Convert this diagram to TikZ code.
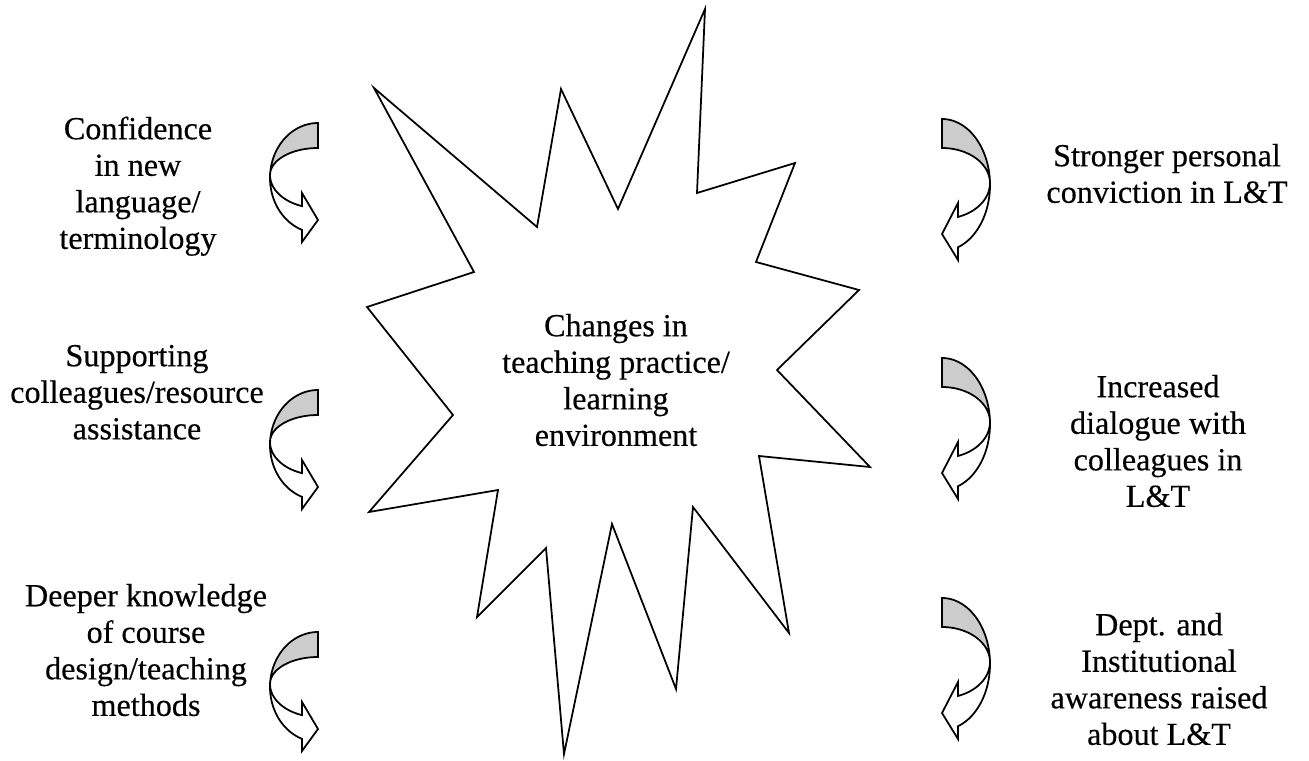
\documentclass[tikz,border=0pt]{standalone}
\usepackage{fontspec}
\setmainfont{Liberation Serif}[FakeBold=0.35]
\definecolor{bandgray}{gray}{0.8}
\tikzset{
  outline/.style={draw=black, line width=1pt, line join=miter},
  band/.style={outline, fill=bandgray},
  front/.style={outline, fill=white},
  lbl/.style={align=center, inner sep=0pt, anchor=north, font=\fontsize{18.3}{20.8}\selectfont},
}
% curved arrow on the left side, pointing right; #1 = top y
\newcommand\curlL[1]{%
  \filldraw[band] plot[domain=270:183.1,samples=30,smooth] ({318+48*cos(\x)},{#1+55+55*sin(\x)})
     -- plot[domain=180:270,samples=30,smooth] ({318+48*cos(\x)},{#1+52+27*sin(\x)}) -- cycle;
  \filldraw[front] plot[domain=183.1:109.47,samples=30,smooth] ({318+48*cos(\x)},{#1+55+55*sin(\x)})
     -- (302,{#1+119}) -- (318,{#1+97}) -- (302,{#1+70})
     -- plot[domain=109.47:180,samples=30,smooth] ({318+48*cos(\x)},{#1+52+33*sin(\x)}) -- cycle;
}
% curved arrow on the right side, pointing left; #1 = top y
\newcommand\curlR[1]{%
  \filldraw[band] plot[domain=270:358.3,samples=30,smooth] ({942+48*cos(\x)},{#1+66+66*sin(\x)})
     -- plot[domain=360:270,samples=30,smooth] ({942+48*cos(\x)},{#1+64+35*sin(\x)}) -- cycle;
  \filldraw[front] plot[domain=358.3:430.53,samples=30,smooth] ({942+48*cos(\x)},{#1+66+66*sin(\x)})
     -- (958,{#1+141}) -- (942,{#1+115}) -- (958,{#1+84})
     -- plot[domain=70.53:0,samples=30,smooth] ({942+48*cos(\x)},{#1+64+36*sin(\x)}) -- cycle;
}
\begin{document}
\begin{tikzpicture}[x=0.02cm, y=-0.02cm]
  \useasboundingbox (0,0) rectangle (1309,761);
  \fill[white] (0,0) rectangle (1309,761);

  % central star
  \draw[outline] (374,88) -- (537,227) -- (561,89) -- (618,209) -- (705,9) -- (697,193)
    -- (795,163) -- (756,262) -- (859,290) -- (777,370) -- (870,467) -- (759,456)
    -- (789,633) -- (693,507) -- (676,689) -- (612,524) -- (564,754) -- (546,548)
    -- (477,617) -- (498,490) -- (369,512) -- (453,415) -- (367,307) -- (474,272) -- cycle;
  \node[lbl] (centre) at (616,310.3) {\strut Changes in\\teaching practice/\\learning\\environment};

  % left column
  \node[lbl] (l1) at (138,113.3) {\strut Confidence\\in new\\language/\\terminology};
  \node[lbl] (l2) at (137,340.3) {\strut Supporting\\colleagues/resource\\assistance};
  \node[lbl] (l3) at (146,580.3) {\strut Deeper knowledge\\of course\\design/teaching\\methods};
  \curlL{123}
  \curlL{390}
  \curlL{632}

  % right column
  \node[lbl] (r1) at (1167,140.3) {\strut Stronger personal\\conviction in L\&T};
  \node[lbl] (r2) at (1158,371.3) {\strut Increased\\dialogue with\\colleagues in\\L\&T};
  \node[lbl] (r3) at (1159,609.3) {\strut Dept. and\\Institutional\\awareness raised\\about L\&T};
  \curlR{119}
  \curlR{358}
  \curlR{598}
\end{tikzpicture}
\end{document}
